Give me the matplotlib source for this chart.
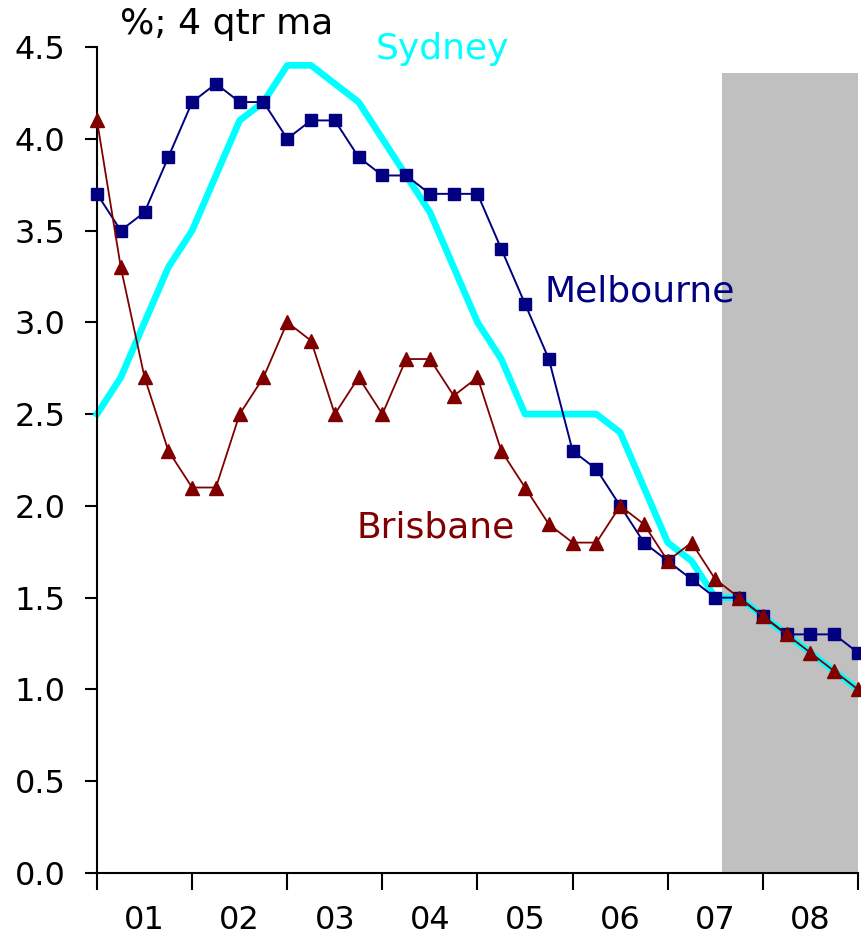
import matplotlib
matplotlib.use("Agg")
import matplotlib.pyplot as plt
import numpy as np

# quarterly data, 4 qtr moving average, %
quarters = np.arange(33)
sydney = [2.5, 2.7, 3.0, 3.3, 3.5, 3.8, 4.1, 4.2, 4.4, 4.4, 4.3, 4.2, 4.0,
          3.8, 3.6, 3.3, 3.0, 2.8, 2.5, 2.5, 2.5, 2.5, 2.4, 2.1, 1.8, 1.7,
          1.5, 1.5, 1.4, 1.3, 1.2, 1.1, 1.0]
melbourne = [3.7, 3.5, 3.6, 3.9, 4.2, 4.3, 4.2, 4.2, 4.0, 4.1, 4.1, 3.9, 3.8,
             3.8, 3.7, 3.7, 3.7, 3.4, 3.1, 2.8, 2.3, 2.2, 2.0, 1.8, 1.7, 1.6,
             1.5, 1.5, 1.4, 1.3, 1.3, 1.3, 1.2]
brisbane = [4.1, 3.3, 2.7, 2.3, 2.1, 2.1, 2.5, 2.7, 3.0, 2.9, 2.5, 2.7, 2.5,
            2.8, 2.8, 2.6, 2.7, 2.3, 2.1, 1.9, 1.8, 1.8, 2.0, 1.9, 1.7, 1.8,
            1.6, 1.5, 1.4, 1.3, 1.2, 1.1, 1.0]
year_labels = ["01", "02", "03", "04", "05", "06", "07", "08"]
forecast_start = 26.3
forecast_top = 4.36

NAVY = "#000080"
MAROON = "#800000"
CYAN = "#00FFFF"
FS_TICK = 23
FS_TEXT = 26

fig = plt.figure(figsize=(8.61, 9.46), dpi=100)
ax = fig.add_axes([97 / 861, 1 - 873 / 946, 761 / 861, 826 / 946])

""" Forecast shading """
ax.axvspan(forecast_start, quarters[-1], ymin=0, ymax=forecast_top / 4.5,
           color="#C0C0C0", lw=0, zorder=0)

""" Series """
ax.plot(quarters, sydney, color=CYAN, lw=4.8, zorder=2, clip_on=False)
ax.plot(quarters, melbourne, color=NAVY, lw=1.4, marker="s", ms=9,
        zorder=3, clip_on=False)
ax.plot(quarters, brisbane, color=MAROON, lw=1.3, marker="^", ms=10,
        zorder=4, clip_on=False)

""" Axes styling """
ax.set_xlim(0, 32)
ax.set_ylim(0, 4.5)
for s in ["top", "right"]:
    ax.spines[s].set_visible(False)
for s in ["left", "bottom"]:
    ax.spines[s].set_linewidth(1.5)

ax.set_yticks(np.arange(0, 4.51, 0.5))
ax.set_yticklabels(["{:0.1f}".format(v) for v in np.arange(0, 4.51, 0.5)],
                   fontsize=FS_TICK)
ax.tick_params(axis="y", direction="out", length=8.5, width=1.5, pad=14)

ax.set_xticks(np.arange(0, 33, 4))
ax.set_xticklabels([])
ax.tick_params(axis="x", which="major", direction="out", length=12, width=1.5)
ax.set_xticks(np.arange(2, 32, 4), minor=True)
ax.set_xticklabels(year_labels, minor=True, fontsize=FS_TICK)
ax.tick_params(axis="x", which="minor", length=0, pad=23)

""" Annotations """
fig.text(120 / 861, 1 - 24 / 946, "%; 4 qtr ma", fontsize=FS_TEXT, va="center")
ax.text(11.7, 4.49, "Sydney", color=CYAN, fontsize=FS_TEXT, va="center")
ax.text(18.8, 3.17, "Melbourne", color=NAVY, fontsize=FS_TEXT, va="center")
ax.text(10.9, 1.88, "Brisbane", color=MAROON, fontsize=FS_TEXT, va="center")

fig.savefig("out.png", dpi=100)
